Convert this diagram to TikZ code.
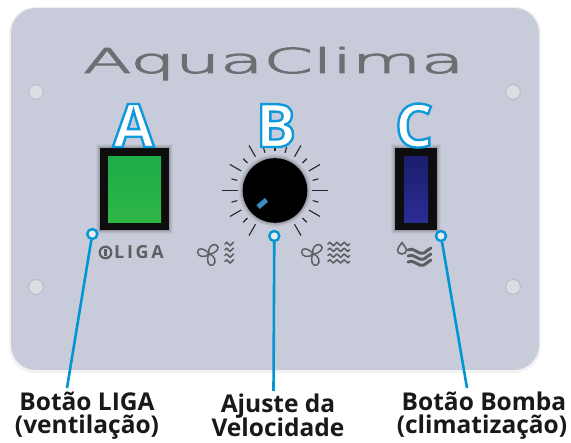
\documentclass[tikz,border=0pt]{standalone}
\usepackage{fontspec}
\usepackage{graphicx}
\newfontfamily\labelfont{Open Sans}
\newfontfamily\thinfont{DejaVu Sans ExtraLight}
\definecolor{panelcol}{RGB}{200,204,218}
\definecolor{holecol}{RGB}{220,221,226}
\definecolor{titlegray}{RGB}{110,110,114}
\definecolor{icongray}{RGB}{95,95,98}
\definecolor{linkblue}{RGB}{0,150,214}
\definecolor{btngreen}{RGB}{28,172,72}
\definecolor{btngreenlow}{RGB}{48,182,70}
\definecolor{btnblue}{RGB}{26,30,108}
\definecolor{btnbluelow}{RGB}{44,44,150}
\definecolor{knobblue}{RGB}{58,141,192}
\newcommand\outlinetext[1]{\special{pdf:literal direct 2 Tr 2.4 w 0.05 0.6 0.86 RG}#1\special{pdf:literal direct 0 Tr}}
\newcommand\thickentext[1]{\special{pdf:literal direct 2 Tr 0.9 w 0.43 0.43 0.45 RG}#1\special{pdf:literal direct 0 Tr}}
\tikzset{
  conn/.style={draw=linkblue, line width=2.6pt},
  dot/.style={circle, draw=linkblue, line width=2.4pt, fill=white!60!panelcol, minimum size=10pt, inner sep=0pt},
  lbl/.style={anchor=base, font=\labelfont\bfseries\fontsize{24.5}{24.5}\selectfont, text=black!90, inner sep=0pt},
  bigletter/.style={anchor=base, font=\labelfont\bfseries\fontsize{60}{60}\selectfont, text=white, inner sep=0pt},
  tickline/.style={draw=black!85, line width=1.1pt},
  icon/.style={draw=icongray, line width=1.4pt, line cap=round, line join=round},
  frame/.style={fill=black!95, inner sep=0pt},
  fan/.pic={
    \foreach \r in {40,160,280}{
      \draw[icon, line width=1.5pt, rotate=\r] (0,0) .. controls (2,-5) and (9.5,-7) .. (11.5,-2) .. controls (13,2.5) and (6,4.5) .. (0,0) -- cycle;
    }
  },
  wave/.style={icon, line width=1.6pt},
}
\begin{document}
\begin{tikzpicture}[x=1pt,y=-1pt]
\useasboundingbox (0,0) rectangle (571,443);
\fill[white] (0,0) rectangle (571,443);
% panel
\fill[black, opacity=0.05, rounded corners=26pt] (9,7) rectangle (541,373);
\fill[panelcol, rounded corners=25pt] (11,8) rectangle (539,370);
% holes
\foreach \p in {(36,92),(513,92),(36,287),(513,287)}{
  \fill[black,opacity=0.07] \p circle (8);
  \fill[holecol] \p circle (6.8);
}
% title
\node[anchor=base west, text=titlegray, inner sep=0pt, font=\thinfont\fontsize{34}{34}\selectfont] (title) at (83,73) {\resizebox{381pt}{26pt}{\thickentext{AquaClima}}};
% button shadows
\foreach \d/\o in {4/0.04,3/0.05,2/0.07,1/0.09}{
  \fill[black, opacity=\o] (100-\d,148-\d) rectangle (169+\d,230+\d);
  \fill[black, opacity=\o] (395-\d,148-\d) rectangle (437+\d,230+\d);
}
% button A
\node[frame, minimum width=69pt, minimum height=82pt] (btnA) at (134.5,189) {};
\node[top color=btngreen, bottom color=btngreenlow, inner sep=0pt, minimum width=53pt, minimum height=66pt] (ledA) at (134.5,190) {};
% button C
\node[frame, minimum width=42pt, minimum height=82pt] (btnC) at (416,189) {};
\node[top color=btnblue, bottom color=btnbluelow, inner sep=0pt, minimum width=24pt, minimum height=66pt] (ledC) at (416,190) {};
% knob
\foreach \d/\o in {4/0.04,3/0.05,2/0.07,1/0.09}{
  \fill[black, opacity=\o] (275,190.5) circle (32.3+\d);
}
\node[circle, fill=black, minimum size=64.6pt, inner sep=0pt] (knob) at (275,190.5) {};
\foreach \a in {-45,-15,15,45,75,90,105,135,165,195,225}{
  \draw[tickline] ([shift={(-\a:39)}]knob.center) -- ([shift={(-\a:45)}]knob.center);
}
\foreach \a in {-60,-30,30,60,120,150,210,240}{
  \draw[tickline] ([shift={(-\a:39)}]knob.center) -- ([shift={(-\a:52)}]knob.center);
}
\foreach \a in {0,180}{
  \draw[tickline] ([shift={(-\a:37)}]knob.center) -- ([shift={(-\a:53)}]knob.center);
}
\draw[knobblue, line width=5pt] ([shift={(-17,16.5)}]knob.center) -- ([shift={(-8.5,9.5)}]knob.center);
% icons row
\draw[icon, line width=2.2pt] (105.5,252.5) circle (5.8);
\draw[icon, line width=2.2pt, line cap=butt] (105.5,249) -- (105.5,256);
\node[anchor=base west, inner sep=0pt, text=icongray, font=\labelfont\bfseries\fontsize{18}{18}\selectfont] (liga) at (114,259) {\addfontfeatures{LetterSpace=15}LIGA};
\pic at (209,254) {fan};
\foreach \k in {0,1,2,3}{
  \draw[wave] (225,244+5.8*\k) sin (226.7,242.3+5.8*\k) cos (228.4,244+5.8*\k) sin (230.1,245.7+5.8*\k) cos (231.8,244+5.8*\k) sin (233.5,242.3+5.8*\k);
}
\pic at (313,254) {fan};
\foreach \k in {0,1,2,3}{
  \draw[wave] (328,244+5.8*\k) sin (329.8,242.3+5.8*\k) cos (331.6,244+5.8*\k) sin (333.4,245.7+5.8*\k) cos (335.2,244+5.8*\k) sin (337,242.3+5.8*\k) cos (338.8,244+5.8*\k) sin (340.6,245.7+5.8*\k) cos (342.4,244+5.8*\k) sin (344.2,242.3+5.8*\k) cos (346,244+5.8*\k) sin (347.8,245.7+5.8*\k) cos (349.6,244+5.8*\k);
}
% drop and water
\draw[icon, line width=1.6pt] (402,242.5) .. controls (404,246) and (406.5,247.5) .. (406.5,250) .. controls (406.5,252.5) and (404.5,254) .. (402,254) .. controls (399.5,254) and (397.5,252.5) .. (397.5,250) .. controls (397.5,247.5) and (400,246) .. (402,242.5) -- cycle;
\foreach \k in {0,1,2}{
  \draw[icon, line width=3pt] (408,250+6*\k) .. controls (413,246+6*\k) and (419,256+6*\k) .. (424,253+6*\k) .. controls (427,251+6*\k) and (429,249+6*\k) .. (431,248+6*\k);
}
% connectors
\node[dot] (dA) at (92.3,234) {};
\node[dot] (dB) at (274.3,236) {};
\node[dot] (dC) at (441,236) {};
\coordinate (eA) at (67,388);
\coordinate (eB) at (273.5,391);
\coordinate (eC) at (467,388);
\draw[conn] (dA) -- (eA);
\draw[conn] (dB) -- (eB);
\draw[conn] (dC) -- (eC);
% labels
\node[lbl] (lA1) at (87,411) {Botão LIGA};
\node[lbl] (lA2) at (87,434) {(ventilação)};
\node[lbl] (lB1) at (278,413) {Ajuste da};
\node[lbl] (lB2) at (278,437) {Velocidade};
\node[lbl] (lC1) at (484,411) {Botão Bomba};
\node[lbl] (lC2) at (482,434) {(climatização)};
% big letters
\node[bigletter] (LA) at (133.5,147) {\outlinetext{A}};
\node[bigletter] (LB) at (276,147) {\outlinetext{B}};
\node[bigletter] (LC) at (414,147) {\outlinetext{C}};
\end{tikzpicture}
\end{document}
